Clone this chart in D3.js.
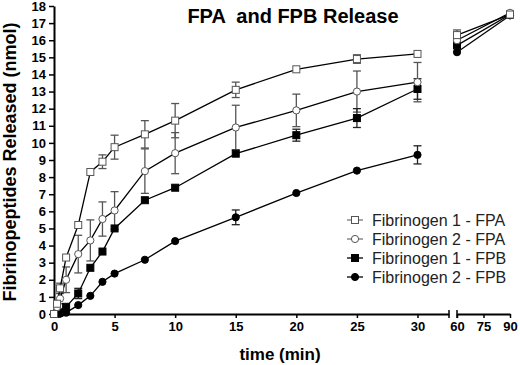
<!DOCTYPE html>
<html>
<head>
<meta charset="utf-8">
<script src="https://cdn.jsdelivr.net/npm/d3@7"></script>
<style>
  body { margin: 0; background: #fff; }
  svg { font-family: "Liberation Sans", Arial, sans-serif; }
  .axis path, .axis line { stroke: #000; }
  .axis text { font-size: 13px; font-weight: bold; fill: #000; }
</style>
</head>
<body>
<svg id="chart" width="520" height="365"></svg>
<script>
// sampling times (min)
var times = [0, 0.25, 0.5, 1, 2, 3, 4, 5, 7.5, 10, 15, 20, 25, 30, 60, 90];

// nmol released, mean and error per time point
var fpa1    = [0, 0.6, 1.5, 3.3, 5.2, 8.3, 8.9, 9.75, 10.5, 11.3, 13.1, 14.3, 14.9, 15.2, 16.3, 17.5];
var fpa1Err = [0, 0.2, 0.3, 0.2, 0.15, 0.15, 0.4, 0.7, 0.8, 1.0, 0.45, 0.2, 0.25, 0.15, 0.3, 0.1];
var fpa2    = [0, 0.4, 0.9, 2.0, 3.5, 4.3, 5.55, 6.05, 8.35, 9.4, 10.9, 11.9, 13.0, 13.55, 16.0, 17.6];
var fpa2Err = [0, 0.2, 0.3, 0.75, 1.1, 1.2, 1.0, 1.1, 1.3, 1.2, 1.3, 0.95, 1.2, 1.15, 0.2, 0.1];
var fpb1    = [0, 0.03, 0.1, 0.42, 1.2, 2.7, 3.65, 5.0, 6.65, 7.38, 9.37, 10.45, 11.45, 13.15, 15.7, 17.5];
var fpb1Err = [0, 0, 0.05, 0.1, 0.3, 0.1, 0.1, 0.1, 0.1, 0.1, 0.15, 0.35, 0.55, 0.6, 0.15, 0.1];
var fpb2    = [0, 0, 0.02, 0.08, 0.52, 1.06, 1.88, 2.36, 3.17, 4.26, 5.65, 7.07, 8.38, 9.3, 15.3, 17.45];
var fpb2Err = [0, 0, 0, 0.02, 0.05, 0.05, 0.05, 0.05, 0.05, 0.05, 0.43, 0.2, 0.15, 0.53, 0.15, 0.1];

var seriesNames = ["Fibrinogen 1 - FPA", "Fibrinogen 2 - FPA", "Fibrinogen 1 - FPB", "Fibrinogen 2 - FPB"];
var yTicks = d3.range(0, 19);
var xTicksMain = [0, 5, 10, 15, 20, 25, 30];
var xTicksLate = [60, 75, 90];

var series = [
  {name: seriesNames[0], values: fpa1, err: fpa1Err, shape: "square", filled: false},
  {name: seriesNames[1], values: fpa2, err: fpa2Err, shape: "circle", filled: false},
  {name: seriesNames[2], values: fpb1, err: fpb1Err, shape: "square", filled: true},
  {name: seriesNames[3], values: fpb2, err: fpb2Err, shape: "circle", filled: true}
];

var svg = d3.select("#chart");

var y = d3.scaleLinear().domain([0, 18]).range([314, 6]);
// broken x axis: 0-30 min, then 60-90 min
var xMain = d3.scaleLinear().domain([0, 32.6]).range([54, 449]);
var xLate = d3.scaleLinear().domain([60, 90]).range([457, 510]);
var xPos = function(t) { return t <= 30 ? xMain(t) : xLate(t) };

/* axes */
var yAxis = svg.append("g")
    .attr("class", "axis")
    .attr("transform", "translate(54,0)")
    .call(d3.axisLeft(y).tickValues(yTicks).tickSize(5).tickSizeOuter(0).tickPadding(3))
yAxis.select(".domain").attr("stroke-width", 2)
yAxis.selectAll(".tick line").attr("stroke-width", 1.5)

var xAxisMain = svg.append("g")
    .attr("class", "axis")
    .attr("transform", "translate(0,314)")
    .call(d3.axisBottom(xMain).tickValues(xTicksMain).tickSize(4).tickSizeOuter(0).tickPadding(4))
var xAxisLate = svg.append("g")
    .attr("class", "axis")
    .attr("transform", "translate(0,314)")
    .call(d3.axisBottom(xLate).tickValues(xTicksLate).tickSize(4).tickSizeOuter(0).tickPadding(4))
svg.selectAll(".axis .domain").attr("stroke-width", 2)
svg.selectAll(".axis .tick line").attr("stroke-width", 1.5)

// break marks at the gap
svg.append("g").selectAll("line")
    .data([xMain.range()[1], xLate.range()[0]])
  .enter().append("line")
    .attr("x1", function(d) { return d }).attr("x2", function(d) { return d })
    .attr("y1", 310).attr("y2", 318)
    .attr("stroke", "#000").attr("stroke-width", 1.5)

/* titles */
svg.append("text")
    .attr("x", 293).attr("y", 23)
    .attr("text-anchor", "middle")
    .attr("font-size", 20).attr("font-weight", "bold")
    .style("white-space", "pre")
    .text("FPA  and FPB Release")

svg.append("text")
    .attr("x", 280).attr("y", 360)
    .attr("text-anchor", "middle")
    .attr("font-size", 17).attr("font-weight", "bold")
    .text("time (min)")

svg.append("text")
    .attr("transform", "translate(16,162) rotate(-90)")
    .attr("text-anchor", "middle")
    .attr("font-size", 18).attr("font-weight", "bold")
    .text("Fibrinopeptides Released (nmol)")

/* marks */
var drawMarker = function(g, s, cx, cy) {
  var m
  if (s.shape == "square") {
    m = g.append("rect").attr("x", cx - 3.5).attr("y", cy - 3.5).attr("width", 7).attr("height", 7)
  } else {
    m = g.append("circle").attr("cx", cx).attr("cy", cy).attr("r", 3.6)
  }
  m.attr("fill", s.filled ? "#000" : "#fff")
   .attr("stroke", s.filled ? "#000" : "#555")
   .attr("stroke-width", 1)
}

var line = d3.line()
    .x(function(d) { return xPos(d.t) })
    .y(function(d) { return y(d.v) })

var plot = svg.append("g")

// error bars first
series.forEach(function(s) {
  var eg = plot.append("g").attr("stroke", s.filled ? "#222" : "#555").attr("stroke-width", 1.3)
  times.forEach(function(t, i) {
    var e = s.err[i]
    if (y(0) - y(e) < 4) return
    var cx = xPos(t), top = y(s.values[i] + e), bot = y(s.values[i] - e)
    eg.append("line").attr("x1", cx).attr("x2", cx).attr("y1", top).attr("y2", bot)
    eg.append("line").attr("x1", cx - 4).attr("x2", cx + 4).attr("y1", top).attr("y2", top)
    eg.append("line").attr("x1", cx - 4).attr("x2", cx + 4).attr("y1", bot).attr("y2", bot)
  })
})

series.slice().reverse().forEach(function(s) {
  var pts = times.map(function(t, i) { return {t: t, v: s.values[i]} })
  var early = pts.filter(function(d) { return d.t <= 30 })
  var late = pts.filter(function(d) { return d.t >= 60 })
  ;[early, late].forEach(function(seg) {
    plot.append("path")
        .attr("d", line(seg))
        .attr("fill", "none")
        .attr("stroke", "#000")
        .attr("stroke-width", 1.3)
  })
})

series.slice().reverse().forEach(function(s) {
  var g = plot.append("g")
  times.forEach(function(t, i) { drawMarker(g, s, xPos(t), y(s.values[i])) })
})

/* legend */
var legend = svg.append("g").attr("transform", "translate(347,220)")
series.forEach(function(s, i) {
  var row = legend.append("g").attr("transform", "translate(0," + (i * 19) + ")")
  row.append("line")
      .attr("x1", 0).attr("x2", 16)
      .attr("stroke", s.filled ? "#000" : "#777").attr("stroke-width", 1.3)
  drawMarker(row, s, 8, 0)
  row.append("text")
      .attr("x", 25).attr("y", 6)
      .attr("font-size", 16)
      .attr("fill", "#222")
      .text(s.name)
})
</script>
</body>
</html>
